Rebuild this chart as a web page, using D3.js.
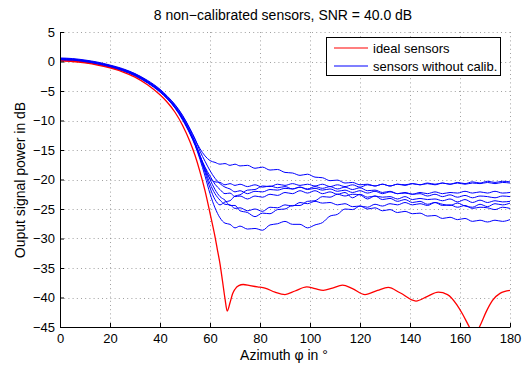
<!DOCTYPE html>
<html><head><meta charset="utf-8">
<script src="https://cdn.jsdelivr.net/npm/d3@7"></script>
<style>
body{margin:0;background:#fff}
svg text{font-family:"Liberation Sans",Arial,Helvetica,sans-serif;fill:#000}
</style>
</head><body>
<svg id="chart" width="528" height="365"></svg>
<script>
const chartTitle = "8 non\u2212calibrated sensors, SNR = 40.0 dB";
const xLabel = "Azimuth \u03C6 in \u00B0";
const yLabel = "Ouput signal power in dB";
const legendLabels = ["ideal sensors", "sensors without calib."];
const xTicks = [0,20,40,60,80,100,120,140,160,180];
const yTicks = [5,0,-5,-10,-15,-20,-25,-30,-35,-40,-45];

// ideal sensors
const idealAz = [0,5,10,15,20,25,30,35,40,43,46,49,52,54,56,58,60,62,63,64,65,66,66.9,68,69,70,71.5,73.3,76,79,82,86,90,94,98.7,102,105.3,109,113,117,122,127,131.3,136,142.4,147,151.3,155,158.7,161,163.5,165.8,168,170.5,173,176,180];
const idealPower = [0.1,0.0,-0.25,-0.6,-1.1,-1.75,-2.65,-3.95,-5.65,-6.95,-8.6,-10.8,-13.6,-15.9,-18.7,-21.9,-25.7,-29.7,-32.0,-34.3,-37.2,-40.2,-42.3,-40.9,-39.4,-38.6,-38.0,-37.8,-38.0,-38.2,-38.4,-39.1,-39.5,-38.9,-38.2,-38.5,-38.8,-38.4,-37.9,-38.5,-39.5,-38.8,-38.3,-39.2,-40.6,-39.8,-39.1,-39.5,-41.2,-42.8,-44.8,-46.4,-44.8,-42.4,-40.5,-39.3,-38.8];

// sensors without calibration (shared azimuth grid)
const azimuth = [0,5,10,15,20,25,30,35,40,43,46,49,52,54,56,58,60,62,64,66,68,70,72,75,78,81,84,87,90,93,96,99,102,105,108,111,114,117,120,123,126,129,132,135,138,141,144,147,150,153,156,159,162,165,168,171,174,177,180];
const sensor1 = [0.5,0.4,0.15,-0.2,-0.7,-1.3,-2.1,-3.3,-4.8,-6.0,-7.4,-9.2,-11.5,-13.2,-14.8,-16.0,-16.8,-17.1,-17.4,-17.3,-17.6,-17.4,-17.7,-17.6,-18.1,-17.9,-18.4,-18.3,-18.8,-18.9,-19.3,-19.1,-19.6,-19.7,-20.2,-20.1,-20.6,-20.5,-20.9,-20.8,-21.1,-20.8,-21.1,-20.8,-20.9,-20.7,-20.9,-20.7,-20.9,-20.6,-20.8,-20.6,-20.8,-20.6,-20.7,-20.5,-20.7,-20.5,-20.6];
const sensor2 = [0.3,0.2,-0.05,-0.4,-0.9,-1.5,-2.35,-3.55,-5.1,-6.3,-7.8,-9.7,-12.1,-14.0,-16.3,-18.4,-19.8,-20.4,-20.5,-20.9,-20.7,-21.0,-20.8,-21.2,-20.9,-21.3,-21.1,-21.4,-21.2,-21.6,-21.3,-21.7,-21.5,-21.8,-21.6,-22.0,-21.8,-22.2,-21.9,-22.3,-22.0,-22.4,-22.1,-22.4,-22.2,-22.5,-22.2,-22.4,-22.1,-22.4,-22.2,-22.3,-22.0,-22.3,-22.1,-22.3,-22.0,-22.3,-22.2];
const sensor3 = [0.4,0.3,0.05,-0.3,-0.8,-1.4,-2.25,-3.45,-5.0,-6.2,-7.7,-9.6,-12.0,-13.9,-16.2,-18.8,-21.4,-23.4,-24.3,-23.8,-23.6,-22.8,-22.6,-21.8,-21.7,-21.1,-21.2,-20.8,-21.0,-20.7,-21.0,-20.8,-21.1,-20.8,-21.2,-20.9,-21.2,-20.9,-21.3,-20.9,-21.1,-20.8,-21.1,-20.8,-21.0,-20.7,-20.9,-20.6,-20.8,-20.6,-20.8,-20.5,-20.7,-20.4,-20.6,-20.3,-20.5,-20.3,-20.4];
const sensor4 = [0.2,0.1,-0.15,-0.5,-1.0,-1.6,-2.45,-3.65,-5.2,-6.4,-7.9,-9.9,-12.3,-14.2,-16.6,-19.4,-22.4,-24.8,-26.5,-27.4,-27.6,-28.2,-27.9,-28.4,-28.3,-28.6,-27.7,-27.5,-27.1,-27.6,-27.6,-28.2,-27.7,-27.3,-26.2,-25.9,-25.0,-25.1,-24.5,-24.7,-24.2,-24.5,-24.1,-24.3,-23.9,-24.3,-24.1,-24.4,-23.9,-24.2,-24.4,-24.0,-24.5,-24.7,-24.2,-24.6,-24.1,-24.3,-24.0];
const sensor5 = [0.5,0.4,0.15,-0.2,-0.7,-1.3,-2.15,-3.35,-4.9,-6.1,-7.6,-9.4,-11.8,-13.6,-15.9,-18.4,-20.7,-22.4,-23.5,-24.2,-24.3,-24.9,-24.8,-25.3,-25.0,-25.4,-24.7,-24.8,-24.3,-24.5,-23.9,-24.1,-23.7,-24.0,-23.9,-24.3,-24.1,-24.6,-24.5,-25.0,-24.8,-25.3,-25.1,-25.6,-25.4,-25.8,-25.7,-26.2,-26.1,-26.6,-26.4,-26.8,-26.6,-27.1,-26.9,-27.2,-26.9,-27.1,-26.8];
const sensor6 = [0.3,0.2,-0.05,-0.4,-0.9,-1.5,-2.35,-3.55,-5.1,-6.3,-7.8,-9.7,-12.1,-14.0,-16.1,-17.9,-19.4,-20.8,-21.7,-22.4,-22.3,-22.9,-22.8,-23.3,-22.8,-23.0,-22.5,-22.7,-22.2,-22.4,-21.9,-22.3,-21.9,-22.4,-22.1,-22.5,-22.2,-23.1,-22.5,-23.0,-22.8,-23.0,-22.9,-23.3,-22.9,-23.4,-23.2,-23.4,-23.3,-23.6,-23.3,-23.8,-23.4,-23.9,-23.5,-23.9,-23.6,-23.8,-23.7];
const sensor7 = [0.4,0.3,0.05,-0.3,-0.8,-1.4,-2.25,-3.45,-5.0,-6.2,-7.7,-9.6,-12.0,-13.9,-16.0,-18.0,-20.0,-21.7,-22.9,-23.5,-24.4,-24.4,-25.3,-25.6,-26.3,-25.7,-25.8,-25.1,-25.0,-24.4,-24.4,-23.7,-23.6,-22.9,-23.0,-22.5,-22.8,-22.5,-22.6,-23.3,-22.8,-23.4,-23.2,-23.7,-23.4,-23.9,-23.7,-24.2,-23.9,-24.4,-24.3,-24.7,-24.4,-24.9,-24.7,-24.8,-25.1,-24.7,-24.9];
const sensor8 = [0.6,0.5,0.25,-0.1,-0.6,-1.2,-2.05,-3.2,-4.7,-5.9,-7.3,-9.1,-11.4,-13.1,-15.2,-16.9,-18.5,-19.8,-20.7,-21.3,-21.6,-22.1,-21.9,-22.4,-22.0,-22.1,-21.7,-21.8,-21.5,-21.6,-21.3,-21.6,-21.2,-21.5,-21.2,-21.6,-21.3,-21.7,-21.4,-21.9,-21.8,-22.2,-22.0,-22.4,-22.3,-22.5,-22.4,-22.8,-22.5,-22.9,-22.6,-23.0,-22.7,-23.1,-22.8,-22.9,-23.1,-22.8,-22.9];
const sensors = [sensor1,sensor2,sensor3,sensor4,sensor5,sensor6,sensor7,sensor8];

const svg = d3.select("#chart");
const L = 60, R = 510, T = 32, B = 327;
const x = d3.scaleLinear().domain([0,180]).range([L,R]);
const y = d3.scaleLinear().domain([-45,5]).range([B,T]);

// grid
const grid = svg.append("g").attr("stroke","#777").attr("stroke-width",0.7).attr("stroke-dasharray","1,3.2");
grid.selectAll(".gx").data(xTicks.filter(d=>d>0)).enter().append("line")
  .attr("x1",d=>x(d)+0.5).attr("x2",d=>x(d)+0.5).attr("y1",T).attr("y2",B);
grid.selectAll(".gy").data(yTicks.filter(d=>d>-45)).enter().append("line")
  .attr("y1",d=>Math.round(y(d))+0.5).attr("y2",d=>Math.round(y(d))+0.5).attr("x1",L).attr("x2",R);

svg.append("clipPath").attr("id","clip").append("rect").attr("x",L).attr("y",T).attr("width",R-L).attr("height",B-T);
const plot = svg.append("g").attr("clip-path","url(#clip)");

const blueLine = d3.line().x((d,i)=>x(azimuth[i])).y(d=>y(d)).curve(d3.curveMonotoneX);
sensors.forEach(s=>{
  plot.append("path").attr("d",blueLine(s)).attr("fill","none").attr("stroke","#0000ff").attr("stroke-width",1);
});
const redLine = d3.line().x((d,i)=>x(idealAz[i])).y(d=>y(d)).curve(d3.curveMonotoneX);
plot.append("path").attr("d",redLine(idealPower)).attr("fill","none").attr("stroke","#ff0000").attr("stroke-width",1.3);

// axes
const ax = svg.append("g").attr("transform",`translate(0,${B})`)
  .call(d3.axisBottom(x).tickValues(xTicks).tickSize(-4).tickPadding(7).tickSizeOuter(0));
const ay = svg.append("g").attr("transform",`translate(${L},0)`)
  .call(d3.axisLeft(y).tickValues(yTicks).tickSize(-4).tickPadding(5).tickSizeOuter(0));
[ax,ay].forEach(g=>{
  g.selectAll("text").style("font-size","13px").style("font-family","'Liberation Sans',Arial,sans-serif").attr("fill","#000");
  g.selectAll("line,path").attr("stroke","#000");
});

// titles
svg.append("text").attr("x",283).attr("y",20).attr("text-anchor","middle").style("font-size","14px").text(chartTitle);
svg.append("text").attr("x",284).attr("y",360).attr("text-anchor","middle").style("font-size","14px").text(xLabel);
svg.append("text").attr("transform","translate(25,180) rotate(-90)").attr("text-anchor","middle").style("font-size","14px").text(yLabel);

// legend
const lg = svg.append("g");
lg.append("rect").attr("x",326.5).attr("y",37.5).attr("width",174).attr("height",38).attr("fill","#fff").attr("stroke","#000");
const colors = ["#ff0000","#0000ff"];
legendLabels.forEach((t,i)=>{
  const yy = 48 + i*18;
  lg.append("line").attr("x1",334).attr("x2",368).attr("y1",yy).attr("y2",yy).attr("stroke",colors[i]).attr("stroke-width",1.2);
  lg.append("text").attr("x",373).attr("y",yy+4.5).style("font-size","13px").text(t);
});
</script>
</body></html>
